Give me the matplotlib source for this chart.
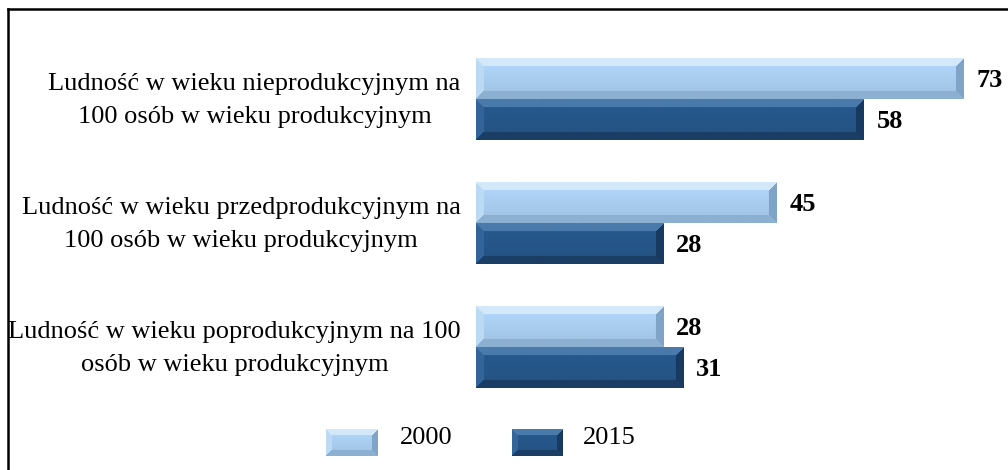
import numpy as np
import matplotlib
matplotlib.use("Agg")
import matplotlib.pyplot as plt
import matplotlib.transforms as mtransforms
from matplotlib.lines import Line2D

categories = [
    "Ludność w wieku nieprodukcyjnym na\n100 osób w wieku produkcyjnym",
    "Ludność w wieku przedprodukcyjnym na\n100 osób w wieku produkcyjnym",
    "Ludność w wieku poprodukcyjnym na 100\nosób w wieku produkcyjnym",
]
years = ["2000", "2015"]
values_2000 = [73, 45, 28]
values_2015 = [58, 28, 31]

# bevel colours: face, top, bottom, left, right
light = {"face": "#a9cdef", "top": "#d3e9fa", "bottom": "#8cb0d2", "left": "#bcdaf4", "right": "#7fa4c7"}
dark = {"face": "#265689", "top": "#4a7aab", "bottom": "#1b3e66", "left": "#33649a", "right": "#183a60"}

plt.rcParams["font.family"] = ["Liberation Serif", "DejaVu Serif"]

W, H, DPI = 1008, 470, 100
fig = plt.figure(figsize=(W / DPI, H / DPI), dpi=DPI)

px_per_unit = 6.68
ax_left = 476
ax = fig.add_axes([ax_left / W, 0, (W - ax_left) / W, 1])
spacing = 124.0
bar_h = 41 / spacing
centers = np.arange(len(categories))


def hex2rgb(c):
    c = c.lstrip("#")
    return np.array([int(c[i:i + 2], 16) / 255 for i in (0, 2, 4)])


def bevel_image(w, h, pal, b=8):
    w, h = max(int(w), 2), max(int(h), 2)
    i = np.arange(h)[:, None] * np.ones((1, w))
    j = np.ones((h, 1)) * np.arange(w)[None, :]
    d = np.stack([i, h - 1 - i, j, w - 1 - j])
    side = d.argmin(axis=0)
    dmin = d.min(axis=0)
    img = np.zeros((h, w, 3))
    face = hex2rgb(pal["face"])
    # slight vertical gradient on the face
    t = (i / (h - 1))[..., None]
    img[:] = face * (1.06 - 0.12 * t)
    names = ["top", "bottom", "left", "right"]
    for k, n in enumerate(names):
        m = (side == k) & (dmin < b)
        img[m] = hex2rgb(pal[n])
    return np.clip(img, 0, 1)


for off, vals, pal in [(-bar_h / 2, values_2000, light), (bar_h / 2, values_2015, dark)]:
    bars = ax.barh(centers + off, vals, height=bar_h, color=pal["face"], edgecolor="none")
    for bar, v in zip(bars, vals):
        y0, y1 = bar.get_y(), bar.get_y() + bar.get_height()
        img = bevel_image(v * px_per_unit, bar_h * spacing, pal)
        im = ax.imshow(img, extent=(0, v, y1, y0), aspect="auto", origin="upper",
                       interpolation="bilinear", zorder=3)
        im.set_clip_path(bar)
        ax.text(v + 13 / px_per_unit, bar.get_y() + bar.get_height() / 2 + 0.02, str(v),
                ha="left", va="center", fontsize=19, fontweight="bold")

ax.set_xlim(0, (W - ax_left) / px_per_unit)
top = -99 / spacing
ax.set_ylim(top + H / spacing, top)
ax.set_yticks(centers)
ax.set_yticklabels(categories, fontsize=19, ha="right", ma="center", linespacing=1.7)
ax.tick_params(axis="y", length=0, pad=11)
ax.tick_params(axis="x", bottom=False, labelbottom=False)
shift = mtransforms.ScaledTranslation(0, 5 / 72, fig.dpi_scale_trans)
for lbl in ax.get_yticklabels():
    lbl.set_transform(lbl.get_transform() + shift)
for s in ax.spines.values():
    s.set_visible(False)
ax.patch.set_alpha(0)

# legend
for (x0, x1), lab, pal, tx in [((326, 378), years[0], light, 400), ((512, 563), years[1], dark, 583)]:
    lax = fig.add_axes([x0 / W, (H - 456) / H, (x1 - x0) / W, 27 / H])
    lax.imshow(bevel_image(x1 - x0, 27, pal, b=6), aspect="auto", interpolation="bilinear")
    lax.axis("off")
    fig.text(tx / W, (H - 438) / H, lab, ha="left", va="center", fontsize=19)

# frame (top and left only)
fig.add_artist(Line2D([8 / W, 8 / W], [0, (H - 9) / H], color="black", lw=1.8))
fig.add_artist(Line2D([8 / W, 1], [(H - 9) / H, (H - 9) / H], color="black", lw=1.8))

fig.savefig("out.png", dpi=DPI)
